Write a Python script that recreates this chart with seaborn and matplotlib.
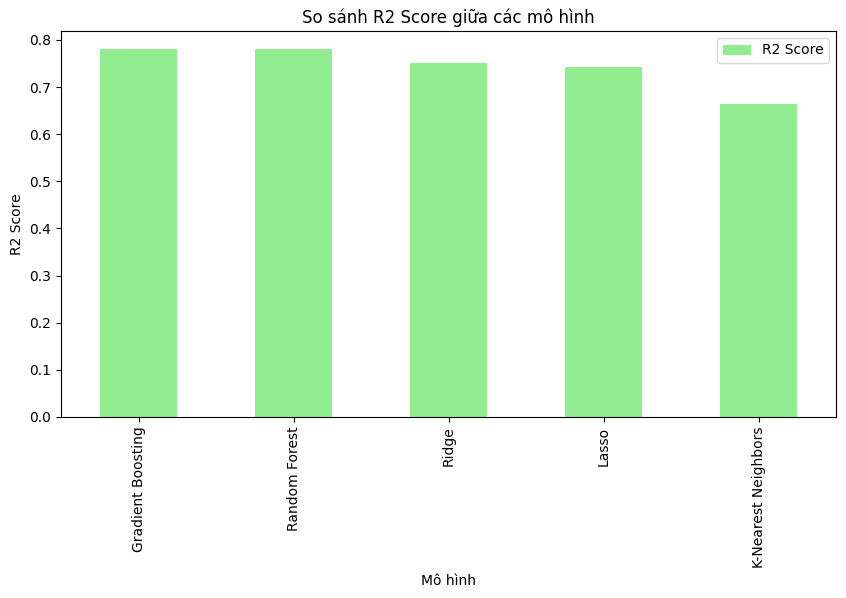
import matplotlib
matplotlib.use("Agg")
import matplotlib.pyplot as plt
import seaborn as sns
import pandas as pd

models = ['Gradient Boosting', 'Random Forest', 'Ridge', 'Lasso', 'K-Nearest Neighbors']
r2_scores = [0.780, 0.780, 0.751, 0.742, 0.665]

df = pd.DataFrame({'Mô hình': models, 'R2 Score': r2_scores})

fig, ax = plt.subplots(figsize=(8.46, 5.98), dpi=100)
fig.subplots_adjust(left=61/846, right=836/846, top=1-31/598, bottom=1-417/598)
sns.barplot(data=df, x='Mô hình', y='R2 Score', color='lightgreen', width=0.5,
            saturation=1, label='R2 Score', ax=ax)
ax.set_title('So sánh R2 Score giữa các mô hình')
ax.set_xlabel('Mô hình')
ax.set_ylabel('R2 Score')
ax.tick_params(axis='x', rotation=90)
ax.legend(loc='upper right')
fig.savefig('out.png')
